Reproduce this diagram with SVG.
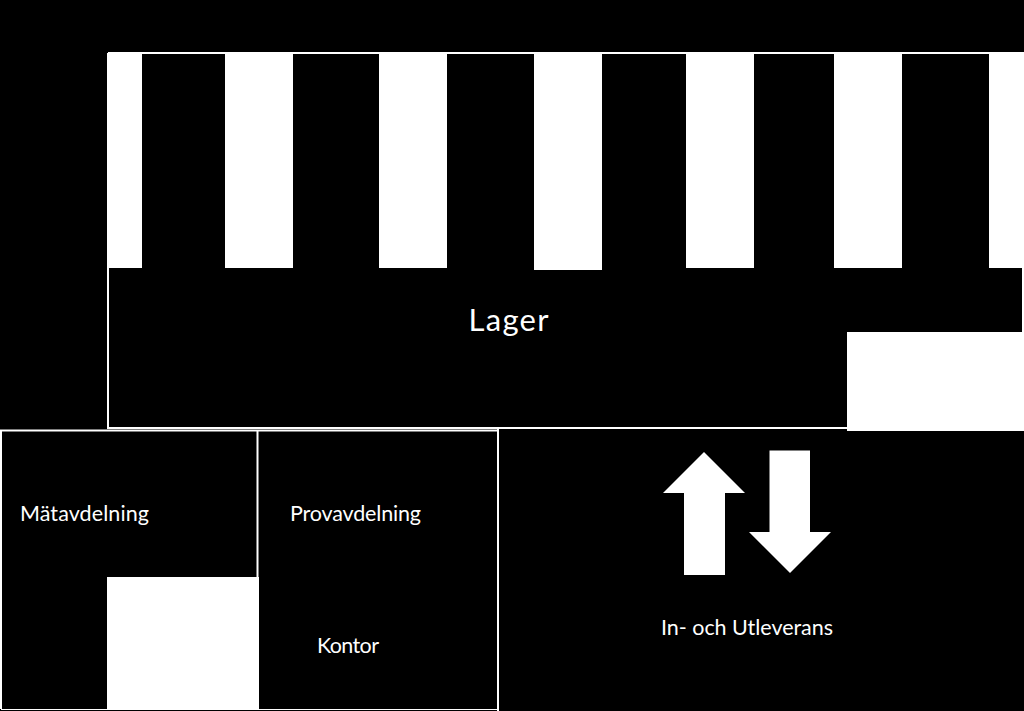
<svg xmlns="http://www.w3.org/2000/svg" width="1024" height="711" viewBox="0 0 1024 711">
<style>
.w{fill:#fff}
.l{stroke:#fff;stroke-width:2;fill:none}
.t{stroke:#fff;stroke-width:1;fill:none}
text{fill:#fff;font-family:"Lato","Open Sans","Liberation Sans",sans-serif}
.s{font-size:21.500px}
</style>
<rect width="1024" height="711" fill="#000"/>
<g id="lager">
<path class="l" d="M108 53H1024M108 268V428H848M1023 268V332"/>
<g id="bays">
<rect class="w" x="107" y="53" width="35" height="215"/>
<rect class="w" x="225" y="53" width="68" height="215"/>
<rect class="w" x="379" y="53" width="68" height="215"/>
<rect class="w" x="534" y="53" width="68" height="217"/>
<rect class="w" x="686" y="53" width="68" height="215"/>
<rect class="w" x="834" y="53" width="68" height="215"/>
<rect class="w" x="989" y="53" width="35" height="215"/>
</g>
<rect class="w" x="847" y="332" width="177" height="99"/>
<text x="468.500" y="330.500" font-size="31" textLength="80">Lager</text>
</g>
<g id="matavdelning">
<path class="l" d="M1 431V709M0 430.500H258M257.500 430V577"/>
<path class="t" d="M1 709.500H107"/>
<rect class="w" x="107" y="577" width="151" height="133"/>
<text class="s" x="20" y="521" textLength="129">Mätavdelning</text>
</g>
<g id="provavdelning">
<path class="l" d="M258 430.500H498M498 428V711"/>
<path class="t" d="M258 709.500H498M258.500 577V710"/>
<text class="s" x="290" y="521" textLength="131">Provavdelning</text>
<text class="s" x="317" y="653" textLength="62">Kontor</text>
</g>
<g id="leverans">
<polygon class="w" points="704,452 745,493 725,493 725,575 684,575 684,493 663,493"/>
<polygon class="w" points="769.500,450.500 810,450.500 810,532 831,532 790,573 749,532 769.500,532"/>
<text class="s" x="661" y="635" textLength="172">In- och Utleverans</text>
</g>
<g id="connectors"/>
</svg>
